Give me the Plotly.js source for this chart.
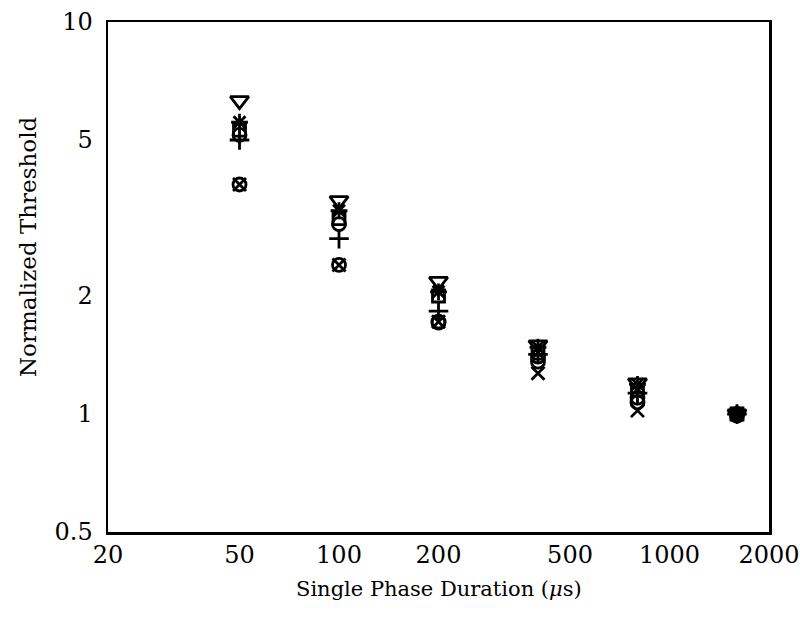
<!DOCTYPE html>
<html>
<head>
<meta charset="utf-8">
<script src="https://cdn.plot.ly/plotly-3.0.1.min.js"></script>
<style>html,body{margin:0;padding:0;background:#fff;}</style>
</head>
<body>
<div id="chart" style="width:800px;height:621px;"></div>
<script>
// Data
const durations = [50, 100, 200, 400, 800, 1600];
const seriesTriDown = [6.3, 3.5, 2.18, 1.5, 1.2, 1.0];
const seriesStar    = [5.55, 3.3, 2.05, 1.48, 1.19, 1.0];
const seriesSquare  = [5.3, 3.15, 2.0, 1.43, 1.15, 1.0];
const seriesCircleA = [5.15, 3.05, 1.71, 1.36, 1.07, 0.99];
const seriesPlus    = [5.0, 2.8, 1.83, 1.42, 1.13, 1.0];
const seriesCross   = [3.85, 2.4, 1.72, 1.27, 1.02, 1.0];
const seriesCircleB = [3.85, 2.4, 1.72, 1.4, 1.1, 1.0];
const xTickVals = [20, 50, 100, 200, 500, 1000, 2000];
const xTickText = ['20', '50', '100', '200', '500', '1000', '2000'];
const yTickVals = [0.5, 1, 2, 5, 10];
const yTickText = ['0.5', '1', '2', '5', '10'];

function mk(y, symbol, size) {
  return {
    x: durations, y: y, type: 'scatter', mode: 'markers', showlegend: false,
    marker: {symbol: symbol, size: size, color: 'black', line: {color: 'black', width: 2.8}}
  };
}
const traces = [
  mk(seriesTriDown, 'triangle-down-open', 16),
  mk(seriesStar, 'asterisk-open', 14),
  mk(seriesSquare, 'square-open', 12),
  mk(seriesCircleA, 'circle-open', 13),
  mk(seriesPlus, 'cross-thin-open', 14),
  mk(seriesCross, 'x-thin-open', 13),
  mk(seriesCircleB, 'circle-open', 13)
];
const serif = 'DejaVu Serif, serif';
const layout = {
  width: 800, height: 621,
  margin: {l: 108, r: 31, t: 22, b: 89},
  paper_bgcolor: 'white', plot_bgcolor: 'white',
  font: {family: serif, color: 'black'},
  xaxis: {
    type: 'log', range: [Math.log10(20), Math.log10(2000)],
    tickvals: xTickVals, ticktext: xTickText, ticks: '',
    showgrid: false, zeroline: false,
    showline: true, mirror: true, linecolor: 'black', linewidth: 2.5,
    tickfont: {family: serif, size: 24, color: 'black'}
  },
  yaxis: {
    type: 'log', range: [Math.log10(0.5), Math.log10(10)],
    tickvals: yTickVals, ticktext: yTickText, ticks: '',
    ticklabelstandoff: 8,
    showgrid: false, zeroline: false,
    showline: true, mirror: true, linecolor: 'black', linewidth: 2.5,
    tickfont: {family: serif, size: 24, color: 'black'}
  },
  annotations: [{
    text: 'Normalized Threshold', xref: 'paper', yref: 'paper',
    x: 0, xshift: -80, y: 0.5, yshift: 30, xanchor: 'center', yanchor: 'middle',
    textangle: -90, showarrow: false,
    font: {family: serif, size: 23, color: 'black'}
  }, {
    text: 'Single Phase Duration (<i>μ</i>s)', xref: 'paper', yref: 'paper',
    x: 0.5, y: 0, yshift: -57, xanchor: 'center', yanchor: 'middle',
    showarrow: false,
    font: {family: serif, size: 21, color: 'black'}
  }]
};
Plotly.newPlot('chart', traces, layout, {displayModeBar: false, staticPlot: true});
</script>
</body>
</html>
